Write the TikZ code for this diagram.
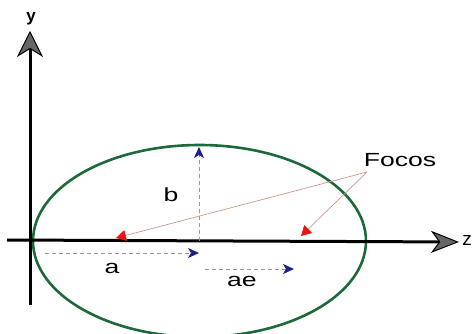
\documentclass[tikz,border=0pt]{standalone}
\usepackage{fontspec}
\setmainfont{Liberation Sans}
\usetikzlibrary{arrows.meta}
\definecolor{ellgreen}{RGB}{28,105,58}
\definecolor{arrblue}{RGB}{30,30,140}
\definecolor{arrred}{RGB}{235,20,20}
\definecolor{focline}{RGB}{205,150,140}
\tikzset{
  axis/.style={line width=3pt},
  xhead/.style={-{Stealth[length=28pt,width=22pt,inset=8pt,fill=black!60,line width=1pt]}},
  yhead/.style={-{Stealth[length=26pt,width=26pt,inset=8pt,fill=black!60,line width=1pt]}},
  dimline/.style={gray!80, line width=0.9pt, dash pattern=on 4pt off 3pt, -{Stealth[length=11pt,width=10pt,inset=3pt,color=arrblue]}},
  focusline/.style={focline, line width=0.7pt, -{Triangle[length=10pt,width=11pt,color=arrred]}},
  lbl/.style={font=\fontsize{19}{20}\selectfont, inner sep=0pt},
}
\newcommand{\wide}[1]{\scalebox{1.4}[1]{#1}}
\begin{document}
\begin{tikzpicture}[x=1pt,y=-1pt]
\useasboundingbox (0,0) rectangle (472,334);
% ellipse
\draw[ellgreen, line width=2.6pt] (199.5,241) ellipse [x radius=166.5pt, y radius=96pt];
% axes
\coordinate (xs) at (7,240);
\coordinate (xe) at (459,242);
\coordinate (ys) at (30,305);
\coordinate (ye) at (30,31);
\draw[axis, xhead] (xs) -- (xe);
\draw[axis, yhead] (ys) -- (ye);
\node[lbl, font=\fontsize{17}{18}\selectfont\bfseries] (ylab) at (31,19) {y};
\node[lbl, anchor=east] (zlab) at (472,240) {z};
% b
\coordinate (bb) at (199,241);
\coordinate (bt) at (199,147);
\draw[dimline] (bb) -- (bt);
\node[lbl] (blab) at (171,195) {\wide{b}};
% a
\coordinate (as) at (45,253);
\coordinate (ae) at (199,253);
\draw[dimline] (as) -- (ae);
\node[lbl] (alab) at (112,268) {\wide{a}};
% ae
\coordinate (es) at (205,269);
\coordinate (ee) at (294,269);
\draw[dimline] (es) -- (ee);
\node[lbl] (aelab) at (242,281) {\wide{ae}};
% foci
\node[lbl] (focos) at (400,160) {\wide{Focos}};
\coordinate (conv) at (367,172);
\coordinate (f1) at (116,238);
\coordinate (f2) at (301,236);
\draw[focusline] (conv) -- (f1);
\draw[focusline] (conv) -- (f2);
\end{tikzpicture}
\end{document}
